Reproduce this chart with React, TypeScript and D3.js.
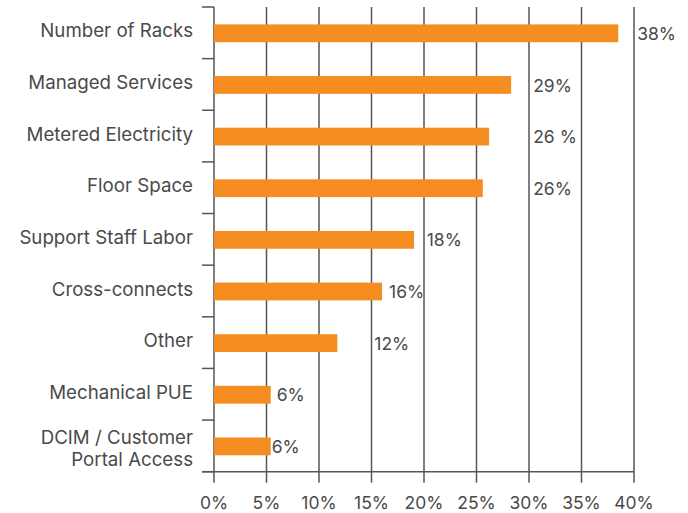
import React from "react";
import * as d3 from "d3";

const categories = [
  ["Number of Racks"],
  ["Managed Services"],
  ["Metered Electricity"],
  ["Floor Space"],
  ["Support Staff Labor"],
  ["Cross-connects"],
  ["Other"],
  ["Mechanical PUE"],
  ["DCIM / Customer", "Portal Access"],
];
const values = [38.5, 28.3, 26.2, 25.6, 19.05, 16, 11.75, 5.4, 5.4];
const valueLabels = ["38%", "29%", "26 %", "26%", "18%", "16%", "12%", "6%", "6%"];
// where each value label starts, in axis (percent) units
const labelAt = [40.3, 30.4, 30.4, 30.4, 20.26, 16.67, 15.27, 5.97, 5.5];
const xTicks = [0, 5, 10, 15, 20, 25, 30, 35, 40];

const W = 688;
const H = 513;
const left = 214;
const right = 634;
const top = 7;
const bottom = 471.7;
const FONT = "Inter, 'Noto Sans', sans-serif";
const TEXT = "#4a4a4a";
const LINE = "#555555";
const BAR = "#F68D21";

export default function App() {
  const x = d3.scaleLinear().domain([0, 40]).range([left, right]);
  const y = d3
    .scaleBand<number>()
    .domain(d3.range(categories.length))
    .range([top, bottom])
    .paddingInner(0)
    .paddingOuter(0);
  const bw = y.bandwidth();
  const barH = bw * 0.345;
  const boundaries = d3.range(categories.length + 1).map((i) => top + i * bw);

  return (
    <svg
      width={W}
      height={H}
      style={{ position: "absolute", left: 0, top: 0, background: "#fff" }}
      fontFamily={FONT}
    >
      {xTicks.map((t) => (
        <line
          key={"g" + t}
          x1={x(t)}
          x2={x(t)}
          y1={top}
          y2={bottom + 11}
          stroke={LINE}
          strokeWidth={1.5}
        />
      ))}
      <line x1={left - 12} x2={right} y1={bottom} y2={bottom} stroke={LINE} strokeWidth={1.5} />
      {boundaries.map((b, i) => (
        <line key={"yt" + i} x1={left - 12} x2={left} y1={b} y2={b} stroke={LINE} strokeWidth={1.5} />
      ))}
      {values.map((v, i) => (
        <rect
          key={"b" + i}
          x={x(0)}
          y={(y(i) as number) + bw / 2 - barH / 2 + 0.5}
          width={x(v) - x(0)}
          height={barH}
          fill={BAR}
        />
      ))}
      {valueLabels.map((l, i) => (
        <text
          key={"vl" + i}
          x={x(labelAt[i])}
          y={(y(i) as number) + bw / 2 + 1}
          dy="0.35em"
          fontSize={17.5}
          fill={TEXT}
        >
          {l}
        </text>
      ))}
      {categories.map((lines, i) => {
        const cy = (y(i) as number) + bw / 2;
        const lh = 22;
        const start = cy - ((lines.length - 1) * lh) / 2 - 2;
        return (
          <text key={"c" + i} textAnchor="end" fontSize={18.7} fill={TEXT}>
            {lines.map((ln, j) => (
              <tspan key={j} x={left - 21} y={start + j * lh + (lines.length > 1 ? 5 : 0)} dy="0.35em">
                {ln}
              </tspan>
            ))}
          </text>
        );
      })}
      {xTicks.map((t) => (
        <text
          key={"xl" + t}
          x={x(t)}
          y={503}
          dy="0.35em"
          textAnchor="middle"
          fontSize={17.5}
          fill={TEXT}
        >
          {t + "%"}
        </text>
      ))}
    </svg>
  );
}
